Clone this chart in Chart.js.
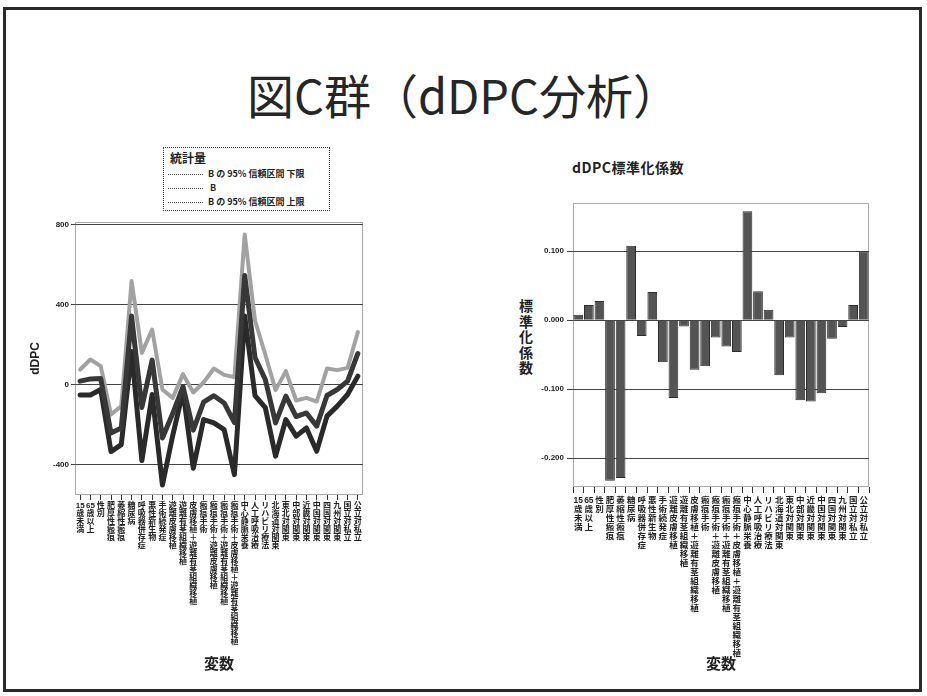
<!DOCTYPE html>
<html lang="ja">
<head>
<meta charset="utf-8">
<title>図C群（dDPC分析）</title>
<script src="https://cdn.jsdelivr.net/npm/chart.js@4.4.1/dist/chart.umd.min.js"></script>
<style>
  html, body { margin: 0; padding: 0; background: #fff; }
  body {
    width: 927px; height: 696px; position: relative; overflow: hidden;
    font-family: "Noto Sans CJK JP", "Liberation Sans", sans-serif; color: #222;
  }
  #frame { position: absolute; left: 3px; top: 7px; width: 913px; height: 679px; border: 3px solid #2b2b2b; }
  #title { position: absolute; left: 0; width: 927px; top: 66px; text-align: center; font-size: 47px; line-height: 56px; color: #262626; }
  .chartBox { position: absolute; }
  #lineBox { left: 10px; top: 215px; width: 360px; height: 470px; }
  #barBox  { left: 500px; top: 195px; width: 380px; height: 490px; }

  /* 凡例 */
  #legend { position: absolute; left: 163px; top: 147px; width: 165px; height: 62px; border: 1px dotted #444; }
  #legend .head { position: absolute; left: 6px; top: 2px; font-size: 12px; font-weight: bold; line-height: 16px; }
  #legend .row { position: absolute; left: 4px; height: 12px; font-size: 9px; font-weight: bold; line-height: 12px; white-space: nowrap; }
  #legend .row i { display: inline-block; width: 35px; border-top: 1px dotted #555; vertical-align: middle; margin-right: 5px; }

  #barTitle { position: absolute; left: 572px; top: 158px; font-size: 14px; font-weight: bold; line-height: 18px; letter-spacing: 0.5px; }
  #coefAxis { position: absolute; left: 518px; top: 298px; font-size: 14px; font-weight: bold; line-height: 15.5px; width: 16px; text-align: center; }
</style>
</head>
<body>
<div id="frame"></div>
<div id="title">図C群（dDPC分析）</div>

<div id="legend">
  <div class="head">統計量</div>
  <div class="row" style="top:20px"><i></i>B の 95% 信頼区間 下限</div>
  <div class="row" style="top:34px"><i></i>&nbsp;B</div>
  <div class="row" style="top:48px"><i></i>B の 95% 信頼区間 上限</div>
</div>
<div class="chartBox" id="lineBox"><canvas id="lineChart" width="360" height="470"></canvas></div>

<div id="barTitle">dDPC標準化係数</div>
<div id="coefAxis">標<br>準<br>化<br>係<br>数</div>
<div class="chartBox" id="barBox"><canvas id="barChart" width="380" height="490"></canvas></div>

<script>
// 変数（カテゴリ）
const categories = [
  '15歳未満', '65歳以上', '性別', '肥厚性瘢痕', '萎縮性瘢痕', '糖尿病', '呼吸器併存症',
  '悪性新生物', '手術続発症', '遊離皮膚移植', '遊離有茎組織移植', '皮膚移植＋遊離有茎組織移植',
  '瘢痕手術', '瘢痕手術＋遊離皮膚移植', '瘢痕手術＋遊離有茎組織移植',
  '瘢痕手術＋皮膚移植＋遊離有茎組織移植', '中心静脈栄養', '人工呼吸治療', 'リハビリ療法',
  '北海道対関東', '東北対関東', '中部対関東', '近畿対関東', '中国対関東', '四国対関東',
  '九州対関東', '国立対私立', '公立対私立'
];

// 左: B と 95% 信頼区間 (dDPC)
const lowerCI   = [-52, -52, -25, -335, -300, 165, -380, -50, -502, -255, -35, -418, -175, -192, -225, -450, 342, -55, -115, -358, -175, -258, -217, -333, -158, -108, -50, 42];
const estimateB = [17, 28, 30, -242, -217, 342, -115, 122, -267, -145, -10, -228, -88, -56, -92, -190, 545, 135, 25, -192, -58, -160, -142, -208, -55, -25, 17, 155];
const upperCI   = [75, 125, 92, -150, -108, 517, 158, 275, -25, -67, 52, -40, 10, 80, 48, 37, 750, 320, 150, -28, 67, -80, -67, -85, 80, 72, 83, 262];

// 右: 標準化係数
const coefficients = [0.008, 0.022, 0.028, -0.233, -0.229, 0.108, -0.023, 0.041, -0.061, -0.113, -0.009, -0.072, -0.067, -0.025, -0.038, -0.046, 0.158, 0.042, 0.015, -0.080, -0.025, -0.116, -0.118, -0.106, -0.027, -0.010, 0.022, 0.100];

// 目盛り
const dpcTicks  = [-400, 0, 400, 800];
const coefTicks = [-0.2, -0.1, 0, 0.1];

// 縦書き風ラベル：1文字ずつ改行（数字はまとめる）
const verticalLabels = categories.map(s => s.match(/[0-9]+|./gu));

const FONT = '"Liberation Sans", "Noto Sans CJK JP", sans-serif';
Chart.defaults.font.family = FONT;
Chart.defaults.color = '#222';

// プロット領域の点線枠
const plotFrame = {
  id: 'plotFrame',
  beforeDatasetsDraw(chart) {
    const { ctx, chartArea: a } = chart;
    ctx.save();
    ctx.strokeStyle = '#555';
    ctx.lineWidth = 1;
    ctx.setLineDash([1, 1]);
    ctx.strokeRect(a.left + 0.5, a.top + 0.5, a.width - 1, a.height - 1);
    ctx.restore();
  }
};

function xScale(height, tickLen, pad, lineH, fontSize) {
  return {
    offset: true,
    grid: { drawOnChartArea: false, color: '#333', tickLength: tickLen },
    border: { display: false },
    ticks: { autoSkip: false, maxRotation: 0, minRotation: 0, padding: pad, color: '#222',
             font: { size: fontSize, weight: 'bold', lineHeight: lineH } },
    title: { display: true, text: '変数', color: '#222',
             font: { size: 15, weight: 'bold' }, padding: { top: 0, bottom: 11 } },
    afterFit: s => { s.height = height; }
  };
}

// 左: 折れ線
new Chart(document.getElementById('lineChart'), {
  type: 'line',
  data: {
    labels: verticalLabels,
    datasets: [
      { label: 'B の 95% 信頼区間 下限', data: lowerCI,   borderColor: '#2a2a2a', borderWidth: 5, order: 1 },
      { label: 'B',                      data: estimateB, borderColor: '#383838', borderWidth: 5, order: 0 },
      { label: 'B の 95% 信頼区間 上限', data: upperCI,   borderColor: '#a2a2a2', borderWidth: 4, order: 2 }
    ]
  },
  options: {
    responsive: false,
    animation: false,
    layout: { padding: { top: 7, right: 7, left: 0, bottom: 0 } },
    elements: { point: { radius: 0 }, line: { tension: 0, borderJoinStyle: 'round', borderCapStyle: 'round' } },
    plugins: { legend: { display: false }, tooltip: { enabled: false } },
    scales: {
      x: xScale(190, 5, 2, 1.0, 8),
      y: {
        min: -552, max: 812,
        afterBuildTicks: s => { s.ticks = dpcTicks.map(v => ({ value: v })); },
        grid: { color: '#444', lineWidth: 1, tickLength: 4 },
        border: { display: false },
        ticks: { padding: 2, color: '#222', font: { size: 8, weight: 'bold' } },
        title: { display: true, text: 'dDPC', color: '#222', font: { size: 12, weight: 'bold' }, padding: { top: 18, bottom: 0 } },
        afterFit: s => { s.width = 65; }
      }
    }
  },
  plugins: [plotFrame]
});

// 右: 棒グラフ
new Chart(document.getElementById('barChart'), {
  type: 'bar',
  data: {
    labels: verticalLabels,
    datasets: [{
      label: 'dDPC標準化係数',
      data: coefficients,
      backgroundColor: '#545454',
      borderColor: '#2e2e2e',
      borderWidth: 1,
      barPercentage: 0.92,
      categoryPercentage: 1
    }]
  },
  options: {
    responsive: false,
    animation: false,
    layout: { padding: { top: 8, right: 11, left: 0, bottom: 0 } },
    plugins: { legend: { display: false }, tooltip: { enabled: false } },
    scales: {
      x: xScale(198, 6, 3, 1.06, 8.5),
      y: {
        min: -0.242, max: 0.17,
        afterBuildTicks: s => { s.ticks = coefTicks.map(v => ({ value: v })); },
        grid: { color: '#444', lineWidth: 1, tickLength: 6 },
        border: { display: false },
        ticks: { padding: 3, color: '#222', font: { size: 8, weight: 'bold' },
                 callback: v => v.toFixed(3) },
        afterFit: s => { s.width = 73; }
      }
    }
  },
  plugins: [plotFrame]
});
</script>
</body>
</html>
